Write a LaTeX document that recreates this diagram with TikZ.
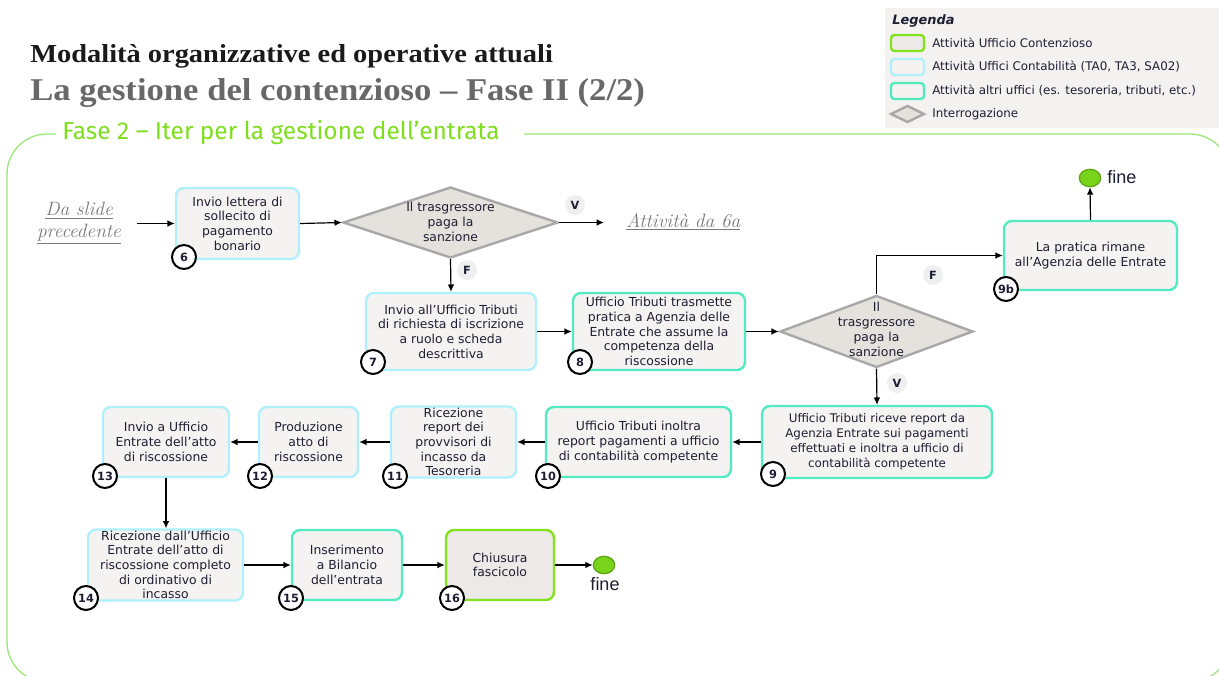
\documentclass[tikz,border=0pt]{standalone}
\usepackage{fontspec}
\usepackage{graphicx}
\usetikzlibrary{arrows.meta,shapes.geometric}
\newfontfamily\boxfont{DejaVu Sans}
\newfontfamily\widefont{DejaVu Sans}
\newfontfamily\titlefont[FakeStretch=0.8]{Liberation Serif}
\newfontfamily\fasefont{Fira Sans}
\newfontfamily\finefont{Liberation Sans}
\definecolor{boxfill}{HTML}{F4F3F1}
\definecolor{boxfilltwo}{HTML}{ECE9E6}
\definecolor{cyanb}{HTML}{B0F0FB}
\definecolor{aquab}{HTML}{52EBC1}
\definecolor{greenb}{HTML}{82E21C}
\definecolor{diafill}{HTML}{E5E2DE}
\definecolor{diagray}{HTML}{A8A8A8}
\definecolor{labgray}{HTML}{EFEFEF}
\definecolor{txt}{HTML}{1E1E32}
\definecolor{endfill}{HTML}{7AD31B}
\definecolor{enddraw}{HTML}{5FA617}
\definecolor{framec}{HTML}{9CE87A}
\definecolor{legbg}{HTML}{F3F2F1}
\definecolor{fasec}{HTML}{7FDF1F}
\definecolor{titleblack}{HTML}{1A1A1A}
\definecolor{titlegray}{HTML}{686868}
\definecolor{linkgray}{HTML}{7A7A7A}
\tikzset{
  box/.style={rectangle, rounded corners=6pt, fill=boxfill, line width=1.8pt, align=center,
    font=\boxfont\fontsize{9.3}{11}\selectfont, text=txt, inner sep=1pt},
  cyanbox/.style={box, draw=cyanb},
  aquabox/.style={box, draw=aquab},
  greenbox/.style={box, draw=greenb, fill=boxfilltwo},
  num/.style={circle, draw=black, line width=1.5pt, fill=white, minimum size=18pt, inner sep=0pt,
    font=\boxfont\bfseries\fontsize{8.5}{9}\selectfont, text=txt},
  cond/.style={diamond, draw=diagray, fill=diafill, line width=1.8pt, inner sep=0pt},
  condtext/.style={align=center, font=\boxfont\fontsize{9.3}{11.2}\selectfont, text=txt, inner sep=0pt},
  tf/.style={circle, fill=labgray, minimum size=15pt, inner sep=0pt,
    font=\boxfont\bfseries\fontsize{8.5}{9}\selectfont, text=txt},
  arr/.style={-{Latex[length=5.5pt,width=5pt]}, line width=0.9pt, draw=black},
  endc/.style={ellipse, fill=endfill, draw=enddraw, line width=1pt, minimum width=16pt, minimum height=13pt, inner sep=0pt},
  linktext/.style={font=\itshape\fontsize{14.5}{16}\selectfont, text=linkgray, align=center, inner sep=0pt},
  legtext/.style={anchor=west, font=\widefont\fontsize{8.9}{10}\selectfont, text=txt, inner sep=0pt},
  legsw/.style={rounded corners=2.5pt, fill=boxfill, line width=1.8pt},
}
\begin{document}
\begin{tikzpicture}[x=0.75pt,y=-0.75pt]
\useasboundingbox (0,0) rectangle (1219,675);
\fill[white] (0,0) rectangle (1219,675);
% frame
\begin{scope}
\clip (0,0) rectangle (1219,675);
\draw[framec, line width=1pt, rounded corners=30pt] (56,134) -- (7,134) -- (7,682) -- (1230,682) -- (1230,134) -- (524,134);
\end{scope}
% titles
\node[anchor=base west, inner sep=0pt, text=titleblack] (t1) at (30,62)
  {\resizebox{392pt}{13.5pt}{\titlefont\bfseries Modalità organizzative ed operative attuali}};
\node[anchor=base west, inner sep=0pt, text=titlegray] (t2) at (30,100)
  {\resizebox{461pt}{16.5pt}{\titlefont\bfseries La gestione del contenzioso – Fase II (2/2)}};
\node[anchor=base west, inner sep=0pt, text=fasec] (fase) at (62,139)
  {\resizebox{328pt}{!}{\fasefont\fontsize{16}{18}\selectfont Fase 2 – Iter per la gestione dell’entrata}};
% legend
\fill[legbg] (885,8) rectangle (1219,128);
\node[anchor=west, inner sep=0pt, font=\widefont\bfseries\itshape\fontsize{9.7}{11}\selectfont, text=txt] (lg) at (892,21) {Legenda};
\draw[legsw, draw=greenb, fill=boxfilltwo] (891,35) rectangle (924,51);
\node[legtext] (l1) at (932,43) {Attività Ufficio Contenzioso};
\draw[legsw, draw=cyanb] (891,59) rectangle (924,75);
\node[legtext] (l2) at (932,67) {Attività Uffici Contabilità (TA0, TA3, SA02)};
\draw[legsw, draw=aquab] (891,83) rectangle (924,99);
\node[legtext] (l3) at (932,91) {Attività altri uffici (es. tesoreria, tributi, etc.)};
\draw[fill=diafill, draw=diagray, line width=1.8pt] (891,114) -- (907.5,106) -- (924,114) -- (907.5,122) -- cycle;
\node[legtext] (l4) at (932,114) {Interrogazione};
% links
\node[linktext] (ds) at (79,223) {\underline{Da slide}\\\underline{precedente}};
\node[linktext, anchor=west] (a6) at (626,222) {\underline{Attività da 6a}};
\coordinate (st) at (137,223.5);
\coordinate (toa6) at (604,222.5);
% boxes
\node[cyanbox, minimum width=92.25pt, minimum height=53.25pt] (b6) at (237.5,223.5)
  {Invio lettera di\\sollecito di\\pagamento\\bonario};
\node[cond, minimum width=161.25pt, minimum height=53.25pt] (d1) at (450.5,222.5) {};
\node[condtext] (d1t) at (450.5,222) {Il trasgressore\\paga la\\sanzione};
\node[cyanbox, minimum width=127.5pt, minimum height=57.75pt] (b7) at (451,331.5)
  {Invio all’Ufficio Tributi\\di richiesta di iscrizione\\a ruolo e scheda\\descrittiva};
\node[aquabox, minimum width=129pt, minimum height=57.75pt] (b8) at (659,331.5)
  {Ufficio Tributi trasmette\\pratica a Agenzia delle\\Entrate che assume la\\competenza della\\riscossione};
\node[cond, minimum width=144.75pt, minimum height=54pt] (d2) at (876.5,331.5) {};
\node[condtext] (d2t) at (876.5,329) {Il\\trasgressore\\paga la\\sanzione};
\node[aquabox, minimum width=129.75pt, minimum height=51.75pt] (b9b) at (1090.5,255.5)
  {La pratica rimane\\all’Agenzia delle Entrate};
\node[aquabox, minimum width=172.5pt, minimum height=54pt, font=\widefont\fontsize{8.9}{11.2}\selectfont] (b9) at (877,442)
  {Ufficio Tributi riceve report da\\Agenzia Entrate sui pagamenti\\effettuati e inoltra a ufficio di\\contabilità competente};
\node[aquabox, minimum width=138.75pt, minimum height=52.5pt] (b10) at (638.5,442)
  {Ufficio Tributi inoltra\\report pagamenti a ufficio\\di contabilità competente};
\node[cyanbox, minimum width=93.75pt, minimum height=52.5pt] (b11) at (453.5,442)
  {Ricezione\\report dei\\provvisori di\\incasso da\\Tesoreria};
\node[cyanbox, minimum width=74.25pt, minimum height=52.5pt] (b12) at (308.5,442)
  {Produzione\\atto di\\riscossione};
\node[cyanbox, minimum width=94.5pt, minimum height=52.5pt] (b13) at (166,442)
  {Invio a Ufficio\\Entrate dell’atto\\di riscossione};
\node[cyanbox, minimum width=116.25pt, minimum height=52.5pt] (b14) at (165.5,565)
  {Ricezione dall’Ufficio\\Entrate dell’atto di\\riscossione completo\\di ordinativo di\\incasso};
\node[aquabox, minimum width=82.5pt, minimum height=52.5pt] (b15) at (347,565)
  {Inserimento\\a Bilancio\\dell’entrata};
\node[greenbox, minimum width=81pt, minimum height=52.5pt] (b16) at (500,565)
  {Chiusura\\fascicolo};
% end events
\node[endc] (e1) at (1090,178) {};
\node[anchor=west, inner sep=0pt, font=\finefont\fontsize{13.5}{14}\selectfont, text=txt] (e1t) at (1107,177) {fine};
\node[endc] (e2) at (604,565) {};
\node[inner sep=0pt, font=\finefont\fontsize{13.5}{14}\selectfont, text=txt] (e2t) at (605,584) {fine};
% connectors
\draw[arr] (st) -- (b6.west);
\draw[arr] (b6.east) -- (d1.west);
\draw[arr] (d1.east) -- (toa6);
\draw[arr] (d1.south) -- (b7.north);
\draw[arr] (b7.east) -- (b8.west);
\draw[arr] (b8.east) -- (d2.west);
\draw[arr] (d2.north) |- (b9b.west);
\draw[arr] (b9b.north) -- (e1.south);
\draw[arr] (d2.south) -- (b9.north);
\draw[arr] (b9.west) -- (b10.east);
\draw[arr] (b10.west) -- (b11.east);
\draw[arr] (b11.west) -- (b12.east);
\draw[arr] (b12.west) -- (b13.east);
\draw[arr] (b13.south) -- (b13.south |- b14.north);
\draw[arr] (b14.east) -- (b15.west);
\draw[arr] (b15.east) -- (b16.west);
\draw[arr] (b16.east) -- (e2.west);
% V/F labels
\node[tf] (v1) at (575,205) {V};
\node[tf] (f1) at (467,270) {F};
\node[tf] (f2) at (933,275) {F};
\node[tf] (v2) at (897,383) {V};
% number circles
\node[num] (n6) at (184,257) {6};
\node[num] (n7) at (373,362) {7};
\node[num] (n8) at (580,362) {8};
\node[num] (n9b) at (1006,289) {9b};
\node[num] (n9) at (773,474) {9};
\node[num] (n10) at (548,476) {10};
\node[num] (n11) at (395,476) {11};
\node[num] (n12) at (260,476) {12};
\node[num] (n13) at (105,476) {13};
\node[num] (n14) at (86,598) {14};
\node[num] (n15) at (291,598) {15};
\node[num] (n16) at (452,598) {16};
\end{tikzpicture}
\end{document}
